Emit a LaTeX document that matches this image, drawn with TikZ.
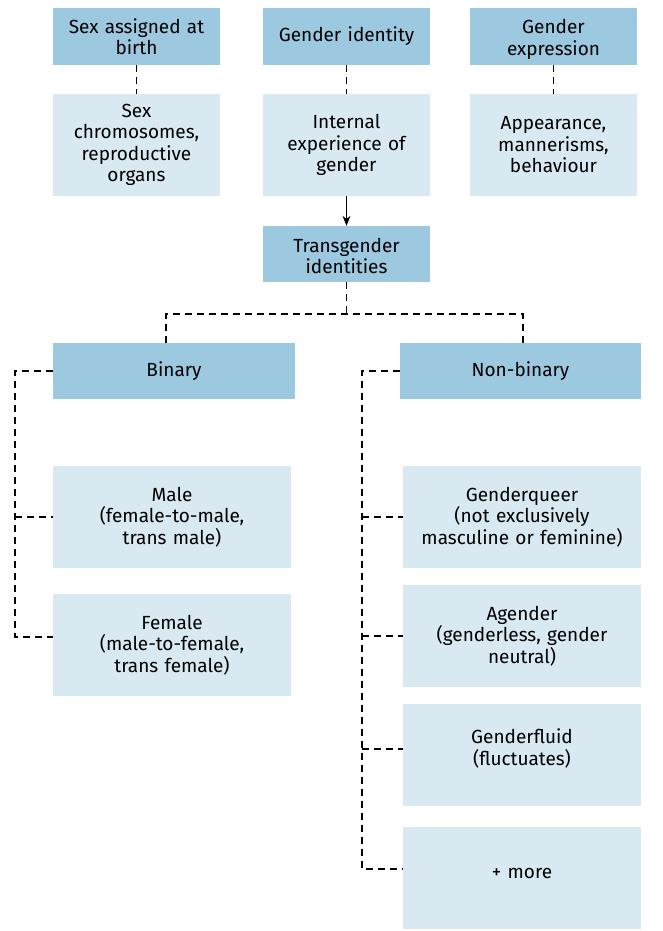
\documentclass[tikz,border=0pt]{standalone}
\usepackage{fontspec}
\setmainfont{Fira Sans}
\usetikzlibrary{arrows.meta}
\definecolor{darkbox}{HTML}{9CC8E0}
\definecolor{lightbox}{HTML}{D8E9F2}
\begin{document}
\begin{tikzpicture}[x=1pt,y=-1pt,
  basebox/.style={rectangle, inner sep=0pt, align=center, text=black,
    font=\fontsize{19}{21.5}\selectfont},
  headbox/.style={basebox, fill=darkbox, minimum height=57pt},
  infobox/.style={basebox, fill=lightbox, minimum height=102pt},
  dashline/.style={draw=black, line width=1.1pt, dash pattern=on 7pt off 5pt},
  arrowline/.style={draw=black, line width=1.1pt, -{Stealth[length=10pt,width=8pt]}}
]
\useasboundingbox (0,0) rectangle (662,931);
% top row
\node[headbox, minimum width=167pt, text width=166pt] (sab) at (136.5,36.5) {Sex assigned at\\birth};
\node[headbox, minimum width=167pt, text width=166pt] (gi) at (346.5,36.5) {Gender identity};
\node[headbox, minimum width=167pt, text width=166pt, text depth=20pt] (ge) at (553.5,36.5) {Gender\\expression};
\node[infobox, minimum width=167pt, text width=166pt] (sc) at (136.5,145) {Sex\\chromosomes,\\reproductive\\organs};
\node[infobox, minimum width=167pt, text width=166pt] (ie) at (346.5,145) {Internal\\experience of\\gender};
\node[infobox, minimum width=167pt, text width=166pt] (ap) at (553.5,145) {Appearance,\\mannerisms,\\behaviour};
\node[headbox, minimum width=167pt, minimum height=56pt, text width=166pt, text depth=18pt] (ti) at (346.5,254) {Transgender\\identities};
% second level
\node[headbox, minimum width=242pt, minimum height=56pt, text width=236pt] (bin) at (174,371) {Binary};
\node[headbox, minimum width=241pt, minimum height=56pt, text width=236pt] (nb) at (520.5,371) {Non-binary};
\node[infobox, minimum width=238pt, text width=236pt] (male) at (172,517) {Male\\(female-to-male,\\trans male)};
\node[infobox, minimum width=238pt, text width=236pt] (female) at (172,645) {Female\\(male-to-female,\\trans female)};
\node[infobox, minimum width=238pt, text width=236pt] (gq) at (522,517) {Genderqueer\\(not exclusively\\masculine or feminine)};
\node[infobox, minimum width=238pt, text width=236pt] (ag) at (522,636) {Agender\\(genderless, gender\\neutral)};
\node[infobox, minimum width=238pt, text width=236pt, text depth=36pt] (gf) at (522,754.5) {Genderfluid\\(fluctuates)};
\node[infobox, minimum width=238pt, text width=236pt, text depth=10pt] (more) at (522,878) {+ more};
% connectors
\draw[dashline] (sab.south) -- (sc.north);
\draw[dashline] (gi.south) -- (ie.north);
\draw[dashline] (ge.south) -- (ap.north);
\draw[arrowline] (ie.south) -- (ti.north);
\coordinate (split) at (346.5,314);
\coordinate (bl) at (166,314);
\coordinate (br) at (523,314);
\draw[dashline] (ti.south) -- (split);
\draw[dashline] (bl |- bin.north) -- (bl) -- (br) -- (br |- nb.north);
\coordinate (ls) at (15,371);
\coordinate (rs) at (362,371);
\coordinate (femalein) at ([yshift=8pt]female.west);
\coordinate (gfin) at ([yshift=5.5pt]gf.west);
\coordinate (morein) at ([yshift=9pt]more.west);
\draw[dashline] (bin.west) -- (ls) |- (femalein);
\draw[dashline] (ls |- male.west) -- (male.west);
\draw[dashline] (nb.west) -- (rs) |- (morein);
\draw[dashline] (rs |- gq.west) -- (gq.west);
\draw[dashline] (rs |- ag.west) -- (ag.west);
\draw[dashline] (rs |- gfin) -- (gfin);
\end{tikzpicture}
\end{document}
